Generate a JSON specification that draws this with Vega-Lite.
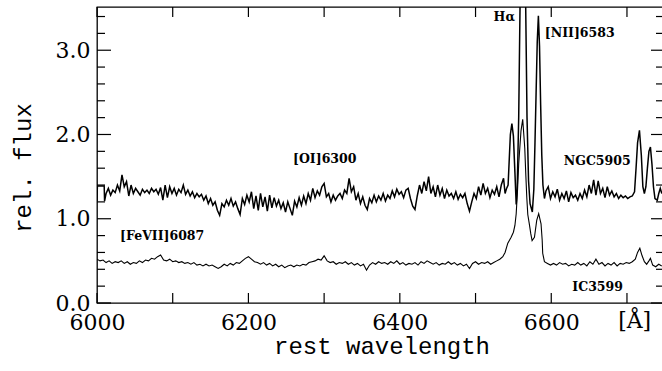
{
  "$schema": "https://vega.github.io/schema/vega-lite/v6.json",
  "width": 566,
  "height": 296,
  "autosize": "none",
  "padding": {"left": 97, "top": 7, "right": 0, "bottom": 68},
  "background": "white",
  "config": {
    "view": {"stroke": "black", "strokeWidth": 1.3},
    "axis": {"grid": false, "domain": false, "ticks": false, "labelColor": "black", "titleColor": "black", "labelFont": "DejaVu Serif", "labelFontSize": 22, "labelOverlap": false, "labelFlush": false}
  },
  "datasets": {
    "ngc": [
      {"w":6000,"f":1.21},{"w":6000.5,"f":1.39},{"w":6009.5,"f":1.39},{"w":6010,"f":1.21},
      {"w":6012,"f":1.30},{"w":6015,"f":1.36},{"w":6018,"f":1.28},{"w":6021,"f":1.34},{"w":6024,"f":1.31},{"w":6027,"f":1.40},{"w":6030,"f":1.33},{"w":6033,"f":1.52},{"w":6036,"f":1.38},{"w":6039,"f":1.44},
      {"w":6042,"f":1.27},{"w":6045,"f":1.40},{"w":6048,"f":1.30},{"w":6051,"f":1.36},{"w":6054,"f":1.32},{"w":6057,"f":1.28},{"w":6060,"f":1.35},{"w":6063,"f":1.31},{"w":6066,"f":1.34},{"w":6069,"f":1.30},
      {"w":6072,"f":1.36},{"w":6075,"f":1.32},{"w":6078,"f":1.35},{"w":6081,"f":1.29},{"w":6084,"f":1.37},{"w":6087,"f":1.22},{"w":6090,"f":1.40},{"w":6093,"f":1.25},{"w":6096,"f":1.38},{"w":6099,"f":1.30},
      {"w":6102,"f":1.36},{"w":6105,"f":1.28},{"w":6108,"f":1.35},{"w":6111,"f":1.31},{"w":6114,"f":1.40},{"w":6117,"f":1.29},{"w":6120,"f":1.34},{"w":6123,"f":1.27},{"w":6126,"f":1.32},{"w":6129,"f":1.25},
      {"w":6132,"f":1.30},{"w":6135,"f":1.26},{"w":6138,"f":1.29},{"w":6141,"f":1.22},{"w":6144,"f":1.27},{"w":6147,"f":1.18},{"w":6150,"f":1.24},{"w":6153,"f":1.16},{"w":6156,"f":1.20},{"w":6159,"f":1.10},
      {"w":6162,"f":1.04},{"w":6165,"f":1.18},{"w":6168,"f":1.14},{"w":6171,"f":1.22},{"w":6174,"f":1.16},{"w":6177,"f":1.24},{"w":6180,"f":1.15},{"w":6183,"f":1.20},{"w":6186,"f":1.12},{"w":6189,"f":1.05},
      {"w":6192,"f":1.24},{"w":6195,"f":1.17},{"w":6198,"f":1.28},{"w":6201,"f":1.20},{"w":6204,"f":1.32},{"w":6207,"f":1.12},{"w":6210,"f":1.27},{"w":6213,"f":1.10},{"w":6216,"f":1.30},{"w":6219,"f":1.14},
      {"w":6222,"f":1.26},{"w":6225,"f":1.09},{"w":6228,"f":1.28},{"w":6231,"f":1.13},{"w":6234,"f":1.25},{"w":6237,"f":1.15},{"w":6240,"f":1.22},{"w":6243,"f":1.12},{"w":6246,"f":1.19},{"w":6249,"f":1.08},
      {"w":6252,"f":1.20},{"w":6255,"f":1.12},{"w":6258,"f":1.04},{"w":6261,"f":1.21},{"w":6264,"f":1.14},{"w":6267,"f":1.25},{"w":6270,"f":1.16},{"w":6273,"f":1.27},{"w":6276,"f":1.18},{"w":6279,"f":1.30},
      {"w":6282,"f":1.22},{"w":6285,"f":1.36},{"w":6288,"f":1.25},{"w":6291,"f":1.33},{"w":6294,"f":1.28},{"w":6297,"f":1.38},{"w":6300,"f":1.42},{"w":6303,"f":1.26},{"w":6306,"f":1.30},{"w":6309,"f":1.20},
      {"w":6312,"f":1.28},{"w":6315,"f":1.22},{"w":6318,"f":1.27},{"w":6321,"f":1.30},{"w":6324,"f":1.24},{"w":6327,"f":1.34},{"w":6330,"f":1.30},{"w":6333,"f":1.48},{"w":6336,"f":1.32},{"w":6339,"f":1.38},
      {"w":6342,"f":1.22},{"w":6345,"f":1.30},{"w":6348,"f":1.18},{"w":6351,"f":1.26},{"w":6354,"f":1.16},{"w":6357,"f":1.11},{"w":6360,"f":1.24},{"w":6363,"f":1.19},{"w":6366,"f":1.28},{"w":6369,"f":1.20},
      {"w":6372,"f":1.27},{"w":6375,"f":1.22},{"w":6378,"f":1.30},{"w":6381,"f":1.21},{"w":6384,"f":1.28},{"w":6387,"f":1.24},{"w":6390,"f":1.33},{"w":6393,"f":1.26},{"w":6396,"f":1.35},{"w":6399,"f":1.29},
      {"w":6402,"f":1.32},{"w":6405,"f":1.25},{"w":6408,"f":1.34},{"w":6411,"f":1.36},{"w":6414,"f":1.24},{"w":6417,"f":1.15},{"w":6420,"f":1.11},{"w":6423,"f":1.27},{"w":6426,"f":1.40},{"w":6429,"f":1.30},
      {"w":6432,"f":1.44},{"w":6435,"f":1.33},{"w":6438,"f":1.50},{"w":6441,"f":1.30},{"w":6444,"f":1.38},{"w":6447,"f":1.26},{"w":6450,"f":1.40},{"w":6453,"f":1.28},{"w":6456,"f":1.36},{"w":6459,"f":1.24},
      {"w":6462,"f":1.34},{"w":6465,"f":1.27},{"w":6468,"f":1.30},{"w":6471,"f":1.24},{"w":6474,"f":1.32},{"w":6477,"f":1.23},{"w":6480,"f":1.29},{"w":6483,"f":1.25},{"w":6486,"f":1.30},{"w":6489,"f":1.18},
      {"w":6492,"f":1.09},{"w":6495,"f":1.20},{"w":6498,"f":1.30},{"w":6501,"f":1.24},{"w":6504,"f":1.38},{"w":6507,"f":1.28},{"w":6510,"f":1.42},{"w":6513,"f":1.30},{"w":6516,"f":1.36},{"w":6519,"f":1.25},
      {"w":6522,"f":1.34},{"w":6525,"f":1.29},{"w":6528,"f":1.38},{"w":6531,"f":1.26},{"w":6534,"f":1.40},{"w":6537,"f":1.48},{"w":6539,"f":1.30},{"w":6541,"f":1.36},{"w":6543,"f":1.40},
      {"w":6544.5,"f":1.70},{"w":6546,"f":2.00},{"w":6548,"f":2.13},{"w":6550,"f":1.98},{"w":6552,"f":1.55},{"w":6553.7,"f":1.17},{"w":6555,"f":1.35},{"w":6557,"f":2.2},{"w":6559,"f":3.7},
      {"w":6562.5,"f":6.0},{"w":6566,"f":3.7},{"w":6568,"f":2.2},{"w":6570,"f":1.45},{"w":6572,"f":1.18},{"w":6575,"f":1.08},{"w":6577,"f":1.35},{"w":6578.5,"f":1.9},{"w":6580,"f":2.5},
      {"w":6581.5,"f":3.1},{"w":6583,"f":3.41},{"w":6584.5,"f":3.05},{"w":6586,"f":2.35},{"w":6587.5,"f":1.75},{"w":6589,"f":1.40},{"w":6591,"f":1.24},{"w":6593,"f":1.33},
      {"w":6596,"f":1.38},{"w":6599,"f":1.24},{"w":6602,"f":1.32},{"w":6605,"f":1.26},{"w":6608,"f":1.35},{"w":6611,"f":1.22},{"w":6614,"f":1.30},{"w":6617,"f":1.24},{"w":6620,"f":1.33},{"w":6623,"f":1.20},
      {"w":6626,"f":1.31},{"w":6629,"f":1.25},{"w":6632,"f":1.28},{"w":6635,"f":1.22},{"w":6638,"f":1.30},{"w":6641,"f":1.24},{"w":6644,"f":1.34},{"w":6647,"f":1.26},{"w":6650,"f":1.40},{"w":6653,"f":1.30},
      {"w":6656,"f":1.46},{"w":6659,"f":1.28},{"w":6662,"f":1.45},{"w":6665,"f":1.30},{"w":6668,"f":1.36},{"w":6671,"f":1.25},{"w":6674,"f":1.38},{"w":6677,"f":1.28},{"w":6680,"f":1.33},{"w":6683,"f":1.26},
      {"w":6686,"f":1.30},{"w":6689,"f":1.24},{"w":6692,"f":1.28},{"w":6695,"f":1.25},{"w":6698,"f":1.27},{"w":6701,"f":1.24},{"w":6704,"f":1.26},{"w":6707,"f":1.27},{"w":6710,"f":1.32},{"w":6712,"f":1.60},
      {"w":6714,"f":1.90},{"w":6716.5,"f":2.05},{"w":6719,"f":1.75},{"w":6721,"f":1.38},{"w":6723,"f":1.30},{"w":6725,"f":1.38},{"w":6727,"f":1.60},{"w":6729,"f":1.80},{"w":6731,"f":1.85},{"w":6733,"f":1.65},
      {"w":6735,"f":1.38},{"w":6737,"f":1.24},{"w":6740,"f":1.22},{"w":6742,"f":1.30},{"w":6744,"f":1.36},{"w":6746,"f":1.30}
    ],
    "ic": [
      {"w":6000,"f":0.52},{"w":6004,"f":0.50},{"w":6008,"f":0.51},{"w":6012,"f":0.48},{"w":6016,"f":0.50},{"w":6020,"f":0.47},{"w":6024,"f":0.49},{"w":6028,"f":0.48},{"w":6032,"f":0.50},{"w":6036,"f":0.47},
      {"w":6040,"f":0.49},{"w":6044,"f":0.46},{"w":6048,"f":0.48},{"w":6052,"f":0.47},{"w":6056,"f":0.50},{"w":6060,"f":0.48},{"w":6064,"f":0.51},{"w":6068,"f":0.50},{"w":6072,"f":0.53},{"w":6076,"f":0.52},
      {"w":6080,"f":0.55},{"w":6084,"f":0.57},{"w":6088,"f":0.51},{"w":6092,"f":0.50},{"w":6096,"f":0.52},{"w":6100,"f":0.49},{"w":6104,"f":0.50},{"w":6108,"f":0.48},{"w":6112,"f":0.49},{"w":6116,"f":0.47},
      {"w":6120,"f":0.48},{"w":6124,"f":0.46},{"w":6128,"f":0.48},{"w":6132,"f":0.45},{"w":6136,"f":0.46},{"w":6140,"f":0.44},{"w":6144,"f":0.46},{"w":6148,"f":0.44},{"w":6152,"f":0.45},{"w":6156,"f":0.43},
      {"w":6160,"f":0.41},{"w":6164,"f":0.43},{"w":6168,"f":0.46},{"w":6172,"f":0.44},{"w":6176,"f":0.47},{"w":6180,"f":0.45},{"w":6184,"f":0.48},{"w":6188,"f":0.47},{"w":6192,"f":0.50},{"w":6196,"f":0.53},
      {"w":6200,"f":0.55},{"w":6204,"f":0.52},{"w":6208,"f":0.49},{"w":6212,"f":0.48},{"w":6216,"f":0.46},{"w":6220,"f":0.48},{"w":6224,"f":0.45},{"w":6228,"f":0.47},{"w":6232,"f":0.44},{"w":6236,"f":0.46},
      {"w":6240,"f":0.43},{"w":6244,"f":0.45},{"w":6248,"f":0.42},{"w":6252,"f":0.44},{"w":6256,"f":0.45},{"w":6260,"f":0.43},{"w":6264,"f":0.45},{"w":6268,"f":0.44},{"w":6272,"f":0.46},{"w":6276,"f":0.45},
      {"w":6280,"f":0.48},{"w":6284,"f":0.49},{"w":6288,"f":0.50},{"w":6292,"f":0.52},{"w":6296,"f":0.51},{"w":6300,"f":0.56},{"w":6304,"f":0.50},{"w":6308,"f":0.48},{"w":6312,"f":0.49},{"w":6316,"f":0.46},
      {"w":6320,"f":0.48},{"w":6324,"f":0.47},{"w":6328,"f":0.49},{"w":6332,"f":0.46},{"w":6336,"f":0.48},{"w":6340,"f":0.45},{"w":6344,"f":0.47},{"w":6348,"f":0.44},{"w":6352,"f":0.46},{"w":6356,"f":0.39},
      {"w":6360,"f":0.45},{"w":6364,"f":0.48},{"w":6368,"f":0.46},{"w":6372,"f":0.49},{"w":6376,"f":0.47},{"w":6380,"f":0.48},{"w":6384,"f":0.46},{"w":6388,"f":0.49},{"w":6392,"f":0.47},{"w":6396,"f":0.50},
      {"w":6400,"f":0.46},{"w":6404,"f":0.48},{"w":6408,"f":0.45},{"w":6412,"f":0.47},{"w":6416,"f":0.46},{"w":6420,"f":0.48},{"w":6424,"f":0.45},{"w":6428,"f":0.49},{"w":6432,"f":0.47},{"w":6436,"f":0.50},
      {"w":6440,"f":0.48},{"w":6444,"f":0.46},{"w":6448,"f":0.48},{"w":6452,"f":0.45},{"w":6456,"f":0.47},{"w":6460,"f":0.46},{"w":6464,"f":0.49},{"w":6468,"f":0.46},{"w":6472,"f":0.48},{"w":6476,"f":0.45},
      {"w":6480,"f":0.47},{"w":6484,"f":0.44},{"w":6488,"f":0.46},{"w":6492,"f":0.41},{"w":6496,"f":0.47},{"w":6500,"f":0.49},{"w":6504,"f":0.46},{"w":6508,"f":0.48},{"w":6512,"f":0.47},{"w":6516,"f":0.49},
      {"w":6520,"f":0.46},{"w":6524,"f":0.48},{"w":6528,"f":0.50},{"w":6532,"f":0.52},{"w":6536,"f":0.55},{"w":6539,"f":0.60},{"w":6542.6,"f":0.71},{"w":6547,"f":0.78},{"w":6550,"f":0.84},{"w":6552,"f":0.92},
      {"w":6553.7,"f":1.06},{"w":6555.5,"f":1.35},{"w":6557,"f":1.65},{"w":6560,"f":2.04},{"w":6562.3,"f":2.18},{"w":6565,"f":1.84},{"w":6566.5,"f":1.50},{"w":6567.7,"f":1.25},{"w":6569,"f":1.05},{"w":6571,"f":0.94},
      {"w":6573,"f":0.82},{"w":6574.7,"f":0.74},{"w":6577.8,"f":0.78},{"w":6580.8,"f":0.98},{"w":6583.4,"f":1.06},{"w":6586.5,"f":0.94},{"w":6588,"f":0.75},{"w":6588.7,"f":0.59},{"w":6591,"f":0.49},{"w":6595,"f":0.47},
      {"w":6599,"f":0.45},{"w":6603,"f":0.47},{"w":6607,"f":0.45},{"w":6611,"f":0.48},{"w":6615,"f":0.46},{"w":6619,"f":0.47},{"w":6623,"f":0.44},{"w":6627,"f":0.46},{"w":6631,"f":0.45},{"w":6635,"f":0.48},
      {"w":6639,"f":0.45},{"w":6643,"f":0.47},{"w":6647,"f":0.44},{"w":6651,"f":0.49},{"w":6655,"f":0.46},{"w":6659,"f":0.52},{"w":6663,"f":0.46},{"w":6667,"f":0.48},{"w":6671,"f":0.44},{"w":6675,"f":0.47},
      {"w":6679,"f":0.45},{"w":6683,"f":0.48},{"w":6687,"f":0.44},{"w":6691,"f":0.47},{"w":6695,"f":0.46},{"w":6699,"f":0.48},{"w":6703,"f":0.47},{"w":6707,"f":0.49},{"w":6711,"f":0.52},{"w":6714,"f":0.60},
      {"w":6717,"f":0.65},{"w":6720,"f":0.56},{"w":6723,"f":0.49},{"w":6726,"f":0.46},{"w":6729,"f":0.50},{"w":6731,"f":0.53},{"w":6734,"f":0.45},{"w":6738,"f":0.43},{"w":6742,"f":0.46},{"w":6746,"f":0.44}
    ],
    "labels": [
      {"w":6538,"f":3.39,"t":"Hα"},
      {"w":6637.6,"f":3.21,"t":"[NII]6583"},
      {"w":6660.7,"f":1.685,"t":"NGC5905"},
      {"w":6661.3,"f":0.19,"t":"IC3599"},
      {"w":6300.8,"f":1.71,"t":"[OI]6300"},
      {"w":6086.1,"f":0.79,"t":"[FeVII]6087"}
    ],
    "unit": [
      {"w":6710.2,"f":-0.21,"t":"[Å]"}
    ],
    "xticks": [{"w":6000},{"w":6100},{"w":6200},{"w":6300},{"w":6400},{"w":6500},{"w":6600},{"w":6700}],
    "ymajor": [{"f":0},{"f":1},{"f":2},{"f":3}],
    "yminor": [{"f":0.2},{"f":0.4},{"f":0.6},{"f":0.8},{"f":1.2},{"f":1.4},{"f":1.6},{"f":1.8},{"f":2.2},{"f":2.4},{"f":2.6},{"f":2.8},{"f":3.2},{"f":3.4}]
  },
  "layer": [
    {
      "data": {"name": "ngc"},
      "mark": {"type": "line", "color": "black", "strokeWidth": 1.5, "clip": true},
      "encoding": {
        "x": {"field": "w", "type": "quantitative", "scale": {"domain": [6000, 6747.6], "nice": false, "zero": false},
          "axis": {"orient": "bottom", "labelPadding": 9,
            "values": [6000,6200,6400,6600], "format": "d",
            "title": "rest wavelength", "titleFont": "Liberation Mono", "titleFontSize": 24, "titleFontWeight": "normal",
            "titleX": 284.5, "titleY": 50, "titleBaseline": "alphabetic", "titleAnchor": null}},
        "y": {"field": "f", "type": "quantitative", "scale": {"domain": [0, 3.513], "nice": false, "zero": false},
          "axis": {"orient": "left", "labelPadding": 7,
            "values": [0, 1, 2, 3], "format": ".1f",
            "title": "rel. flux", "titleFont": "Liberation Mono", "titleFontSize": 24, "titleFontWeight": "normal",
            "titleAngle": -90, "titleX": -74, "titleY": 160.5, "titleAlign": "center", "titleBaseline": "middle"}}
      }
    },
    {
      "data": {"name": "ic"},
      "mark": {"type": "line", "color": "black", "strokeWidth": 1.1, "clip": true},
      "encoding": {
        "x": {"field": "w", "type": "quantitative", "axis": null},
        "y": {"field": "f", "type": "quantitative", "axis": null}
      }
    },
    {
      "data": {"name": "xticks"},
      "mark": {"type": "tick", "orient": "vertical", "size": 10, "thickness": 1.2, "color": "black", "opacity": 1, "yOffset": -5},
      "encoding": {
        "x": {"field": "w", "type": "quantitative", "axis": null},
        "y": {"datum": 0, "type": "quantitative", "axis": null}
      }
    },
    {
      "data": {"name": "xticks"},
      "mark": {"type": "tick", "orient": "vertical", "size": 10, "thickness": 1.2, "color": "black", "opacity": 1, "yOffset": 5},
      "encoding": {
        "x": {"field": "w", "type": "quantitative", "axis": null},
        "y": {"datum": 3.513, "type": "quantitative", "axis": null}
      }
    },
    {
      "data": {"name": "ymajor"},
      "mark": {"type": "tick", "orient": "horizontal", "size": 14, "thickness": 1.2, "color": "black", "opacity": 1, "xOffset": 7},
      "encoding": {
        "x": {"datum": 6000, "type": "quantitative", "axis": null},
        "y": {"field": "f", "type": "quantitative", "axis": null}
      }
    },
    {
      "data": {"name": "yminor"},
      "mark": {"type": "tick", "orient": "horizontal", "size": 8, "thickness": 1.2, "color": "black", "opacity": 1, "xOffset": 4},
      "encoding": {
        "x": {"datum": 6000, "type": "quantitative", "axis": null},
        "y": {"field": "f", "type": "quantitative", "axis": null}
      }
    },
    {
      "data": {"name": "ymajor"},
      "mark": {"type": "tick", "orient": "horizontal", "size": 12, "thickness": 1.2, "color": "black", "opacity": 1, "xOffset": -6},
      "encoding": {
        "x": {"datum": 6747.6, "type": "quantitative", "axis": null},
        "y": {"field": "f", "type": "quantitative", "axis": null}
      }
    },
    {
      "data": {"name": "yminor"},
      "mark": {"type": "tick", "orient": "horizontal", "size": 7, "thickness": 1.2, "color": "black", "opacity": 1, "xOffset": -3.5},
      "encoding": {
        "x": {"datum": 6747.6, "type": "quantitative", "axis": null},
        "y": {"field": "f", "type": "quantitative", "axis": null}
      }
    },
    {
      "data": {"name": "labels"},
      "mark": {"type": "text", "font": "DejaVu Serif", "fontSize": 12.5, "fontWeight": "bold", "color": "black", "align": "center", "baseline": "middle"},
      "encoding": {
        "x": {"field": "w", "type": "quantitative", "axis": null},
        "y": {"field": "f", "type": "quantitative", "axis": null},
        "text": {"field": "t", "type": "nominal"}
      }
    },
    {
      "data": {"name": "unit"},
      "mark": {"type": "text", "font": "DejaVu Serif", "fontSize": 22, "color": "black", "align": "center", "baseline": "middle"},
      "encoding": {
        "x": {"field": "w", "type": "quantitative", "axis": null},
        "y": {"field": "f", "type": "quantitative", "axis": null},
        "text": {"field": "t", "type": "nominal"}
      }
    }
  ],
  "resolve": {"axis": {"x": "independent", "y": "independent"}}
}
